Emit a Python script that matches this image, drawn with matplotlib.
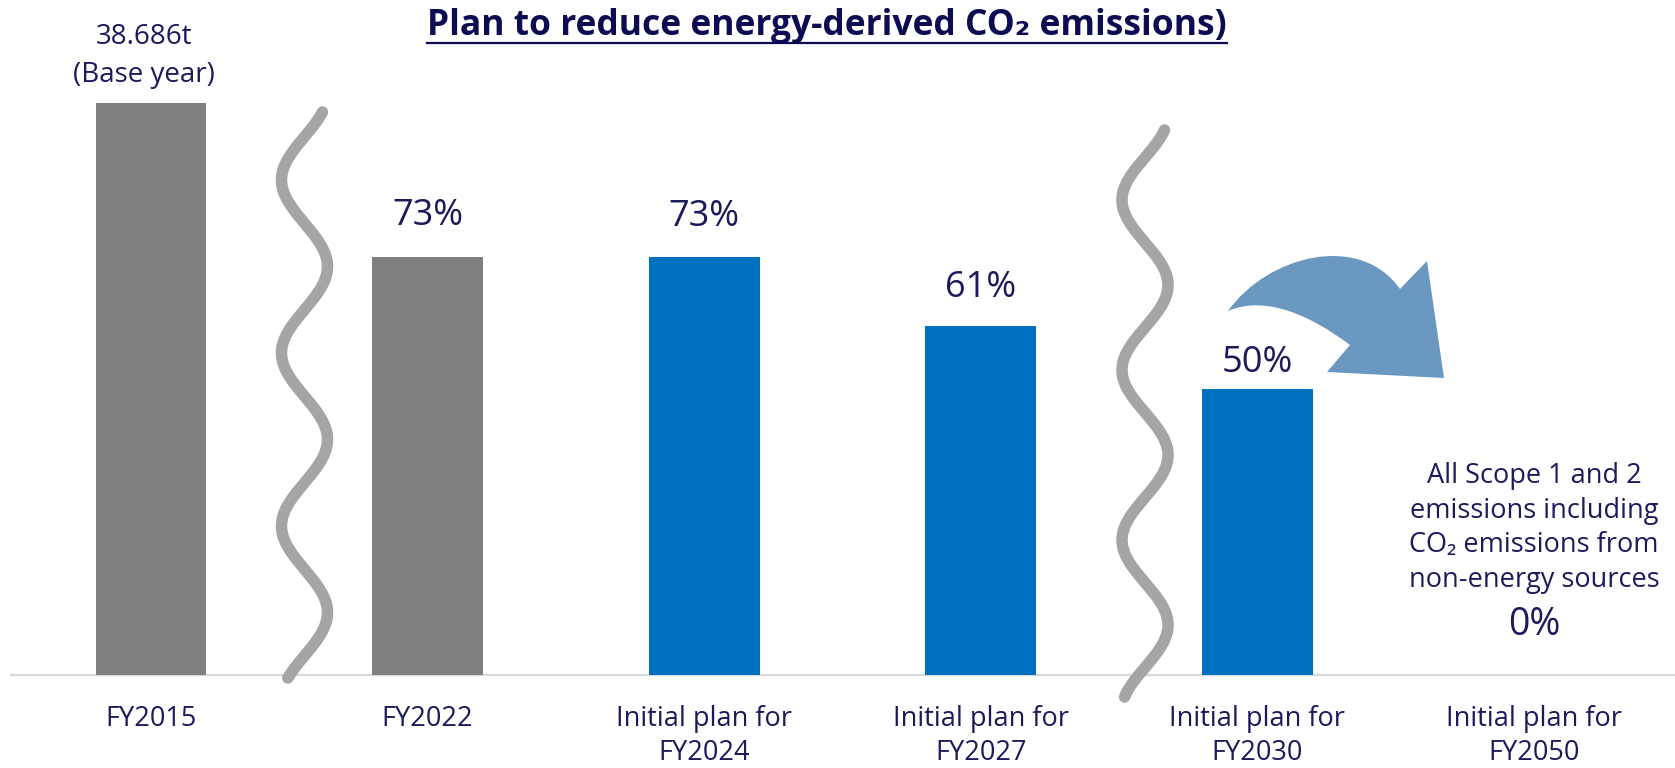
import numpy as np
import matplotlib
matplotlib.use("Agg")
import matplotlib.pyplot as plt
from matplotlib.path import Path
from matplotlib.patches import PathPatch
from matplotlib.transforms import blended_transform_factory

plt.rcParams['font.family'] = ['Open Sans', 'DejaVu Sans']

# ---- data -------------------------------------------------------------
categories = ["FY2015", "FY2022", "Initial plan for\nFY2024",
              "Initial plan for\nFY2027", "Initial plan for\nFY2030",
              "Initial plan for\nFY2050"]
values = [100, 73, 73, 61, 50, 0]          # % of base-year emissions
value_labels = ["38.686t\n(Base year)", "73%", "73%", "61%", "50%", "0%"]
bar_colors = ["#7f7f7f", "#7f7f7f", "#0070c0", "#0070c0", "#0070c0", "#0070c0"]
note_2050 = ("All Scope 1 and 2\nemissions including\n"
             "CO\u2082 emissions from\nnon-energy sources")
title = "Plan to reduce energy-derived CO\u2082 emissions)"

# ---- layout helpers ---------------------------------------------------
W, H = 1675, 768
DPI = 100
TXT = "#1b1b5c"

fig = plt.figure(figsize=(W / DPI, H / DPI), dpi=DPI)
ax = fig.add_axes([0, 0, 1, 1])

step = 276.6          # pixels between category centres
x0 = 151.0            # pixel centre of first category
base_px = 675.0       # baseline (value 0) in pixels from top
scale = 5.72          # pixels per percent
ax.set_xlim(-x0 / step, (W - x0) / step)
ax.set_ylim(-(H - base_px) / scale, base_px / scale)
ax.axis("off")


def fx(x):
    return x / W


def fy(y):
    return 1 - y / H


# baseline
ax.plot([fx(11), 1], [fy(base_px), fy(base_px)], color="#d9d9d9", lw=1.6,
        transform=fig.transFigure, zorder=1)

# bars
pos = np.arange(len(categories))
ax.bar(pos[:5], values[:5], width=0.4, color=bar_colors[:5], zorder=2)

# value labels (gap = pixels from bar top to label centre)
gaps = [47, 41, 40, 38, 26, 50]
dx = [-7, 0, 0, 0, 0, 0]
sizes = [20, 26, 26, 26, 26, 27]
spacing = [1.45, 1.2, 1.2, 1.2, 1.2, 1.2]
for i, (v, lab) in enumerate(zip(values, value_labels)):
    ax.annotate(lab, xy=(pos[i], v),
                xytext=(dx[i] * 72 / DPI, gaps[i] * 72 / DPI),
                textcoords="offset points", ha="center", va="center",
                fontsize=sizes[i], color=TXT, linespacing=spacing[i],
                zorder=5)

# note above the FY2050 value
ax.annotate(note_2050, xy=(pos[5], 0), xytext=(0, 147 * 72 / DPI),
            textcoords="offset points", ha="center", va="center",
            fontsize=19.5, color=TXT, linespacing=1.33)

# category labels, one text per line
tr = blended_transform_factory(ax.transData, fig.transFigure)
line_baselines = [726, 760]
for i, c in enumerate(categories):
    for j, line in enumerate(c.split("\n")):
        ax.text(pos[i], fy(line_baselines[j]), line, transform=tr,
                ha="center", va="baseline", fontsize=19.5, color=TXT)

# wavy break marks


def wave(cx, top, bottom, amp, period, peak_right):
    y = np.linspace(top, bottom, 400)
    x = cx + amp * np.cos(2 * np.pi * (y - peak_right) / period)
    ax.plot(fx(x), fy(y), color="#a5a5a5", lw=8.3, solid_capstyle="round",
            transform=fig.transFigure, zorder=3)


wave(304.5, 112, 678, 23, 173, 93.5)
wave(1145, 130, 697, 23, 170, 115)

# curved arrow towards FY2050
P = [(1228, 311),
     (1268, 255), (1360, 232), (1400, 289),
     (1427, 261), (1444, 378), (1327, 372), (1350, 345),
     (1310, 315), (1265, 295), (1228, 311)]
codes = ([Path.MOVETO] + [Path.CURVE4] * 3 + [Path.LINETO] * 4
         + [Path.CURVE4] * 3)
verts = [(fx(x), fy(y)) for x, y in P]
ax.add_patch(PathPatch(Path(verts, codes), facecolor="#6b98c0",
                       edgecolor="none", transform=fig.transFigure, zorder=4))

# underlined title
t = fig.text(fx(827), fy(26), title, ha="center", va="center",
             fontsize=25.5, fontweight="bold", color="#0c0c52")
fig.canvas.draw()
bb = t.get_window_extent()
uy = fy(43)
fig.add_artist(plt.Line2D([bb.x0 / W, bb.x1 / W], [uy, uy],
                          color="#0c0c52", lw=1.6))

fig.savefig("out.png", dpi=DPI)
